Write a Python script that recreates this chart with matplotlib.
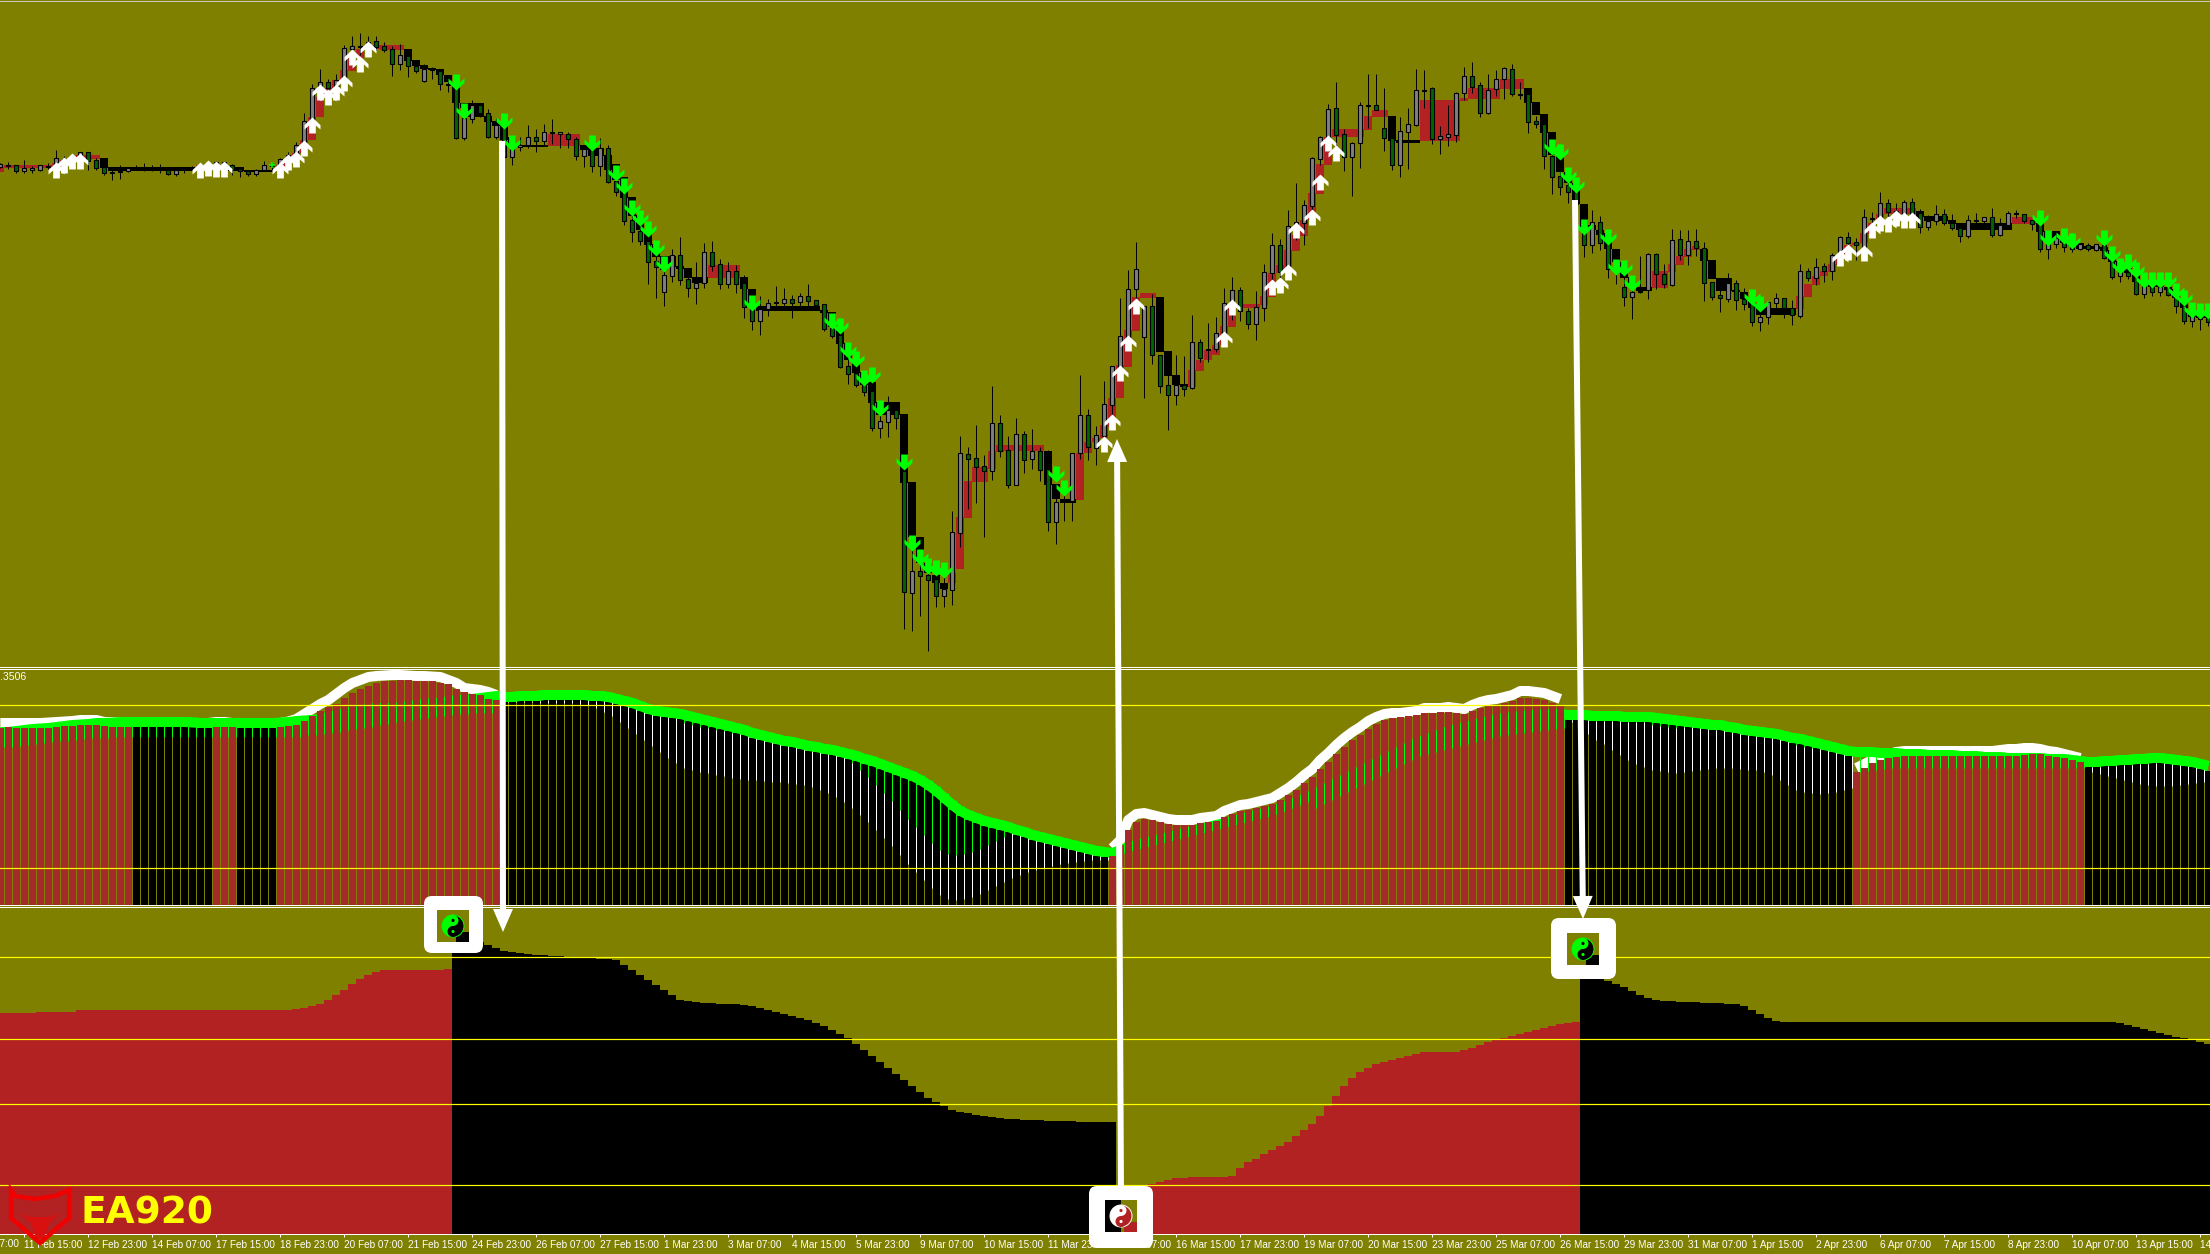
import numpy as np
import matplotlib
matplotlib.use('Agg')
import matplotlib.pyplot as plt
from matplotlib.path import Path
from matplotlib.patches import Circle, Wedge, Rectangle, Polygon, FancyBboxPatch, FancyArrow

# levels are read off the screenshot (no price scale is visible), larger = lower on the chart
body_top = [
    164,165,165,168,168,165,166,158,159,156, 152,152,160,167,172,171,168,168,168,168,
    168,170,170,168,168,165,165,162,162,165, 169,171,170,165,165,159,155,145,121,88,
    82,82,80,48,46,45.5,42,41,46,49, 55,56,66,69,69,71,84,85,118,105,
    105,113,125,124,147,145,137,137,132,132, 132,134,139,149,149,148,148,181,192,220,
    231,241,261,275,255,255,279,283,252,252, 264,271,271,283,307,309,303,302,299,299,
    296,296,300,304,328,335,366,373,384,391, 421,410,410,471,571,571,575,579,589,532,
    453,454,458,466,423,423,450,434,434,451, 451,469,502,500,453,415,415,435,404,366,
    336,289,269,306,306,355,385,385,385,342, 342,349,333,303,290,290,311,307,272,245,
    245,226,222,205,158,137,109,108,134,143, 105,105,105,128,138,131,124,90,90,88,
    136,134,93,76,76,85,90,79,68,69, 94,94,121,124,156,176,185,191,233,222,
    222,243,269,287,292,291,254,254,274,240, 239,241,241,248,282,295,283,283,299,303,
    317,302,298,298,308,271,271,267,266,255, 237,237,242,217,218,203,203,211,202,202,
    213,221,214,214,223,228,220,220,217,217, 225,213,213,214,220,223,244,238,238,246,
    244,245,244,245,257,272,272,276,283,283, 287,287,294,305,314,314,318]
body_bot = [
    167,166,171,171,170,170,167,167,160,159, 157,161,168,173,173,172,171,169,169,169,
    169,174,174,169,169,168,166,166,166,170, 171,174,174,170,166,165,159,156,146,122,
    88,88,88,81,49,46.5,46,47,50,64, 64,66,71,81,70,84,85,138,138,119,
    113,137,137,157,157,147,145,141,141,133, 134,139,156,156,166,166,182,192,221,232,
    241,262,267,292,276,280,288,288,283,266, 284,284,284,307,321,321,309,303,303,303,
    302,301,305,329,336,367,374,385,392,428, 428,422,418,592,593,576,580,596,596,590,
    533,459,467,471,471,451,485,485,460,459, 470,522,522,501,501,453,447,448,436,405,
    368,337,289,337,355,386,395,395,389,388, 358,350,349,334,304,311,324,324,308,273,
    272,269,226,223,206,159,138,135,157,157, 143,106,110,138,165,165,132,125,91,139,
    139,137,135,93,87,113,113,89,79,94, 95,122,124,156,177,187,192,204,245,245,
    243,269,271,297,297,292,290,274,284,285, 255,255,248,283,297,298,299,300,304,322,
    322,317,303,308,315,316,278,278,271,271, 255,243,245,250,218.5,217,212,214,214,214,
    227,227,221,223,228,236,236,221,221,235, 235,225,214,221,224,249,249,244,247,249,
    249,249,250,258,277,276,276,294,294,292, 292,295,306,321,321,319,322]
wick_high = [
    163,162,165,160,166,165,163,150,156,155, 152,152,158,167,170,165,167,165,163,165,
    164,169,169,167,166,164,162,161,161,164, 168,170,169,161,163,158,152,142,113,84,
    69,79,74,45,36,33,36,36,42,46, 44,53,63,64,67,69,80,77,110,100,
    103,109,118,115,138,137,125,129,124,119, 132,132,137,145,145,138,145,173,180,205,
    213,227,245,263,249,237,277,262,243,241, 259,262,265,275,300,296,299,286,288,295,
    293,284,300,304,323,322,347,360,373,377, 407,396,403,457,547,553,563,563,573,511,
    436,447,425,455,386,415,436,418,431,429, 447,450,487,487,453,375,409,426,381,366,
    298,270,242,306,294,355,355,355,356,315, 339,323,317,288,277,287,308,291,264,233,
    239,210,183,200,157,136,104,82,129,142, 102,74,74,88,138,117,108,69,70,87,
    126,105,92,67,62,82,74,70,67,64, 82,93,116,122,140,150,173,180,217,210,
    216,237,263,270,287,256,253,253,264,229, 230,230,229,242,282,285,273,280,288,295,
    303,302,293,298,300,264,268,258,263,253, 236,232,238,209,212,192,199,203,200,198,
    209,215,205,209,214,227,215,213,217,208, 218,211,210,214,220,220,237,235,233,244,
    243,243,244,238,253,265,267,270,280,280, 280,283,292,300,309,310,313]
wick_low = [
    168,169,173,173,173,171,169,170,167,165, 160,170,170,175,180,179,172,170,171,171,
    173,175,176,173,170,172,170,172,172,175, 177,176,176,171,170,170,163,160,150,130,
    100,100,97,88,65,55,50,50,52,76, 70,77,73,82,79,90,92,139,140,123,
    117,138,139,157,165,151,148,152,145,144, 148,148,160,167,172,176,183,196,225,242,
    245,284,298,306,282,285,297,304,288,271, 289,288,293,318,330,335,316,307,306,318,
    307,307,307,331,338,368,384,387,396,431, 438,437,429,629,631,616,651,607,607,605,
    547,509,503,537,480,457,488,485,473,469, 481,531,544,521,521,459,460,465,447,420,
    370,350,310,398,364,393,430,405,396,389, 362,362,352,340,320,321,329,340,321,293,
    292,278,240,245,220,165,142,150,171,196, 168,128,110,151,170,177,169,126,108,144,
    154,146,142,100,93,117,114,96,99,96, 99,133,128,169,194,195,203,220,257,253,
    250,278,284,306,319,293,299,289,288,286, 260,265,256,301,300,312,302,310,310,326,
    331,324,313,318,325,318,281,285,282,280, 265,258,260,252,230,230,227,225,225,226,
    233,230,225,225,230,242,238,223,227,237, 236,225,218,223,230,252,259,248,252,252,
    250,251,251,259,279,282,279,295,298,296, 296,296,313,324,327,330,326]
up_candles = [0,1,3,4,5,7,9,10,16,17,22,23,24,25,27,32,33,34,35,36,37,38,39,40,42,43,44,46,50,53,58,59,62,64,
              65,66,68,70,73,75,83,84,87,88,91,95,96,98,100,110,111,114,118,119,120,124,127,129,132,134,135,
              137,138,139,140,141,142,143,147,149,152,153,154,157,158,159,161,162,163,164,165,166,169,170,175,
              176,177,180,181,182,183,186,187,188,199,204,205,206,209,211,216,220,221,222,225,227,229,230,233,
              235,238,241,242,246,248,250,251,256,257,260,262,265,268,270,274]

ha_top = [
    167,165,165,165,165,165,165,163,160,158, 155,155,155,158,167,167,167,167,167,167,
    167,167,167,167,167,165,165,165,165,167, 167,170,170,170,170,165,160,153,140,117,
    97,88,80,70,53,49,45,45,45,45, 45,49,60,65,68,69,75,82,103,103,
    103,116,121,125,137,145,145,145,145,134, 134,134,134,145,148,148,155,164,177,197,
    215,230,244,256,256,266,268,277,277,265, 265,265,265,277,289,306,306,306,306,306,
    306,306,306,310,312,324,343,360,372,382, 402,402,402,414,482,537,563,575,583,573,
    517,481,467,467,451,445,445,445,445,445, 445,451,484,499,499,453,442,438,425,398,
    365,330,297,293,293,297,351,375,384,370, 360,350,345,326,307,304,304,304,296,273,
    265,250,235,220,193,164,137,129,129,129, 129,116,110,110,116,140,140,140,100,100,
    100,100,100,98,88,88,88,88,79,79, 79,88,102,114,132,155,172,183,204,225,
    230,233,249,262,277,287,287,271,271,264, 256,249,246,249,260,278,278,290,292,299,
    308,308,308,308,308,296,284,276,271,264, 255,245,243,233,223,214,208,208,208,208,
    211,216,216,216,220,223,223,223,223,223, 223,223,217,217,217,223,231,231,240,242,
    243,246,246,247,250,261,268,275,282,284, 285,287,289,300,313,315,315]
ha_bot = [
    172,168,168,168,168,168,168,168,166,162, 159,160,159,168,171,171,171,171,171,171,
    171,171,171,171,171,170,170,170,170,171, 171,172,172,172,172,171,168,162,153,140,
    117,97,88,81,71,58,48,49,50,50, 50,61,66,69,70,75,82,103,108,117,
    117,122,126,140,147,147,147,147,147,146, 146,146,146,150,156,156,170,180,198,216,
    230,245,257,270,267,269,278,283,283,278, 278,278,278,289,306,311,311,311,311,311,
    311,311,311,313,327,344,360,373,385,403, 415,415,415,483,537,563,573,583,589,583,
    569,518,482,482,469,452,451,451,451,451, 451,485,499,503,503,500,453,442,438,427,
    398,367,331,298,298,352,376,385,387,387, 371,360,355,345,327,308,308,308,305,297,
    273,270,251,236,220,194,165,137,137,137, 137,130,117,117,141,143,143,143,141,141,
    141,141,141,101,99,99,99,99,89,89, 89,103,115,133,155,172,183,204,227,230,
    235,249,262,278,287,291,291,288,288,272, 265,257,250,261,279,291,291,292,299,308,
    315,315,315,315,315,309,297,285,276,272, 265,255,245,243,234,223,214,214,214,214,
    217,221,221,221,224,230,230,230,230,230, 230,230,224,224,224,232,240,240,243,246,
    249,249,249,251,262,269,273,282,285,287, 287,290,298,308,317,318,318]
ha_red_spans = [(0,12),(25,28),(35,50),(69,72),(89,92),(119,130),(135,144),(149,173),(178,190),(207,212),(225,239),(252,254)]

up_arrow_bars = [7,8,9,10,25,26,27,28,35,36,37,38,39,40,41,42,43,44,45,46,138,139,140,141,142,153,154,159,160,161,162,
                 164,165,166,167,230,231,233,234,235,236,237,238,239]
up_arrow_y = [170,165,161,161,170,168,169,169,170,162,159,148,125,92,97,92,83,57,64,49,444,422,373,343,306,339,307,287,285,272,230,
              217,182,143,153,258,252,253,230,223,224,218,220,220]
down_arrow_bars = [57,58,63,64,74,77,78,79,80,81,82,83,94,104,105,106,107,108,109,110,113,114,115,116,117,118,132,133,
                   194,195,196,197,198,201,202,203,204,219,220,255,256,258,259,263,264,265,266,267,268,269,270,271,272,273,274,275,276]
down_arrow_y = [82,111,121,143,143,173,186,208,218,229,248,264,303,321,326,350,359,378,375,408,462,543,557,566,568,570,474,488,
                147,152,175,185,227,237,267,268,283,297,304,218,238,236,241,238,254,266,262,270,280,280,280,280,291,298,310,311,311]

white_line = [
    718,718,718,718,718,718,717.5,717,716.5,716, 715,715,715,717,717,717,717,718,718,718,
    718,718,718,718,718,718,718,717,717,718, 718,718,718,718,718,718,716.5,714,709,704,
    699,695,689,683,678,675,672,671,670.5,670, 670,670.5,671,671,671.5,672,675,678,683,684,
    685,687,690] + [np.nan]*76 + [
    843,835,815,809,808,810,812,814,815,815, 815,813,812,811,806,803,800,799,797,795,
    793,788,783,777,770,764,755,748,740,733, 727,722,716,712,709,708,708,707,706,703,
    703,703,702,703,704,700,697,695,694,692, 690,686,686,687,688,691,694] + [np.nan]*36 + [
    763,759,755,751,749,747,746,746,746,746, 746,746,746,746,746,746,746,746,745,744,
    744,743,743,744,746,747,749,751,753] + [np.nan]*16
lime_line = [
    727,727,726,725,724,723.5,723,722,721,720, 719.5,719,718,718,717.5,717,717,717,717,717,
    717,717,717,717,717.5,718,718,718,718,718, 718,718,718,718,718,717.5,717,716,715.5,715,
    714,712,710,708,706,705,704,703,703,703, 702,701,700,699,698,698,696,695,695,694,
    693,692,691, 692,692,691,691,691,690,690,690,690,690, 690,691,691,692,694,696,698,701,704,706,
    707,708,709,711,713,715,717,719,721,723, 725,728,730,732,734,736,737,739,741,742,
    744,745,747,749,751,754,756,759,762,765, 768,771,775,780,786,793,800,806,810,813,
    816,818,820,822,825,827,830,832,834,836, 838,840,842,844,846,847,
    848,845,842,840,838,836,834,832,830,828, 826,824,822,820,818,816,814,812,810,808,
    806,803,800,797,794,790,786,782,778,774, 770,766,762,758,754,750,746,742,738,735,
    732,729,726,724,722,720,718,716,714,713, 712,711,710,710,709,709,709,
    710,710,710,711,711,711,711,712,712,712, 712,713,714,715,716,717,718,719,720,720,
    722,723,725,726,727,728,729,731,733,734, 736,738,740,742,744,746,
    747,747,747,748,748,748,749,749,749,750, 750,750,750,751,751,751,752,752,752,753,
    753,753,753,753,754,754,754,755,756, 757,757,756,756,755,755,754,754,753,753,
    754,755,756,757,759,761]
trace_bot = [
    747,746.7,746,745,744,743,742,741.5,741,740, 739,738.5,738,738,737,737,737,737,737,737,
    737,737,737,737,737,737,737,737,737,737, 737,737,737,737,737,737,737,737,735,735,
    734,733,732,730,729,728,727,725,724,722, 721,720,719,718,717,716,715,714.5,714,713.5,
    713,713,713, 700,701,702,702,703,703,703,703,703,704, 705,708,712,716,722,728,734,740,746,752,
    758,763,768,770,772,773,775,776,778,779, 780,780,781,782,782,783,784,785,787,790,
    793,797,802,808,815,822,830,838,846,855, 864,872,880,888,895,899,900,899,897,894,
    890,886,882,878,875,872,870,868,866,864, 863,862,861,860,860,860,
    848,845,842,840,838,836,834,832,830,828, 826,824,822,820,818,816,814,812,810,808,
    806,803,800,797,794,808,804,800,796,792, 788,784,780,776,772,768,764,760,756,754,
    752,750,748,746,744,742,740,738,736,735, 734,733,732,731,730,729,728,
    722,728,734,740,744,750,755,760,764,767, 770,771,772,773,772,771,770,769,768,768,
    768,769,770,770,772,775,780,785,790,792, 793,794,793,792,790,788,
    772,771,770,769,768,768,768,768,768,768, 768,768,768,768,768,768,768,768,768,768,
    768,768,768,768,768,768,768,768,768, 772,774,776,778,780,782,784,785,786,786,
    786,785,784,783,782,782]
hist_red_top = [
    728,727,728,728,728,728,728,727,726,726, 725,725,725,726,727,727,727] + [np.nan]*10 + [727,727,727] + [np.nan]*5 + [
    727,726,725,721,716,711,707,704,698,693, 689,686,683,681,681,680,680,681,681,681,
    683,684,689,692,694,695,699,700] + [np.nan]*76 + [
    856,845,830,822,819,820,822,824,825,825, 825,823,822,821,817,814,811,810,808,806,
    804,800,795,790,783,777,769,762,754,747, 740,735,729,724,720,718,717,716,715,713,
    713,712,712,713,714,711,708,706,705,703, 701,698,698,699,700,703,706] + [np.nan]*36 + [
    772,768,763,760,758,757,756,756,756,756, 756,756,756,756,756,756,756,756,756,756,
    756,755,754,754,756,757,758,760,762] + [np.nan]*16

area_top = [1013]*5 + [1012]*5 + [1010]*27 + [
    1009,1008,1006,1004,1000,995,990,984,979,975, 972,970,970,970,970,970,970,970,970,969,
    935,937,939,942,945,948,951,952,953,954, 955,955,956,956,957,957,958,958,959,959,
    960,965,970,975,980,985,990,995,1000,1001, 1002,1003,1003,1004,1004,1004,1005,1006,1008,1010,
    1012,1014,1016,1018,1020,1023,1026,1030,1034,1038, 1044,1050,1056,1062,1068,1074,1080,1086,1092,1098,
    1102,1106,1110,1112,1113,1115,1116,1117,1118,1119, 1119,1120,1120,1120,1121,1121,1121,1121,1122,1122,
    1122,1122,1122,
    1188,1187,1186,1185,1184,1182,1180,1178,1178,1177, 1177,1177,1177,1177,1176,1168,1162,1159,1154,1150,
    1146,1142,1136,1130,1124,1116,1106,1096,1086,1078, 1072,1068,1064,1062,1060,1058,1056,1054,1052,1052,
    1052,1052,1052,1050,1048,1045,1042,1040,1038,1036, 1034,1032,1030,1028,1026,1024,1023,1022,
    975,977,979,981,984,987,991,995,998,1000, 1001,1001,1002,1002,1002,1003,1003,1003,1004,1004,
    1006,1010,1014,1018,1021] + [1022]*42 + [1023,1025,1027,1029,1031,1033,1035,1037,1038,1040,1042,1044]
area_red_spans = [(0,56),(140,197)]

hist_levels = [705.3, 868.3]
area_levels = [957, 1039, 1104, 1185]

tick_bars = list(range(-5, 276, 8))
tick_labels = ['10 Feb 07:00','11 Feb 15:00','12 Feb 23:00','14 Feb 07:00','17 Feb 15:00','18 Feb 23:00','20 Feb 07:00',
               '21 Feb 15:00','24 Feb 23:00','26 Feb 07:00','27 Feb 15:00','1 Mar 23:00','3 Mar 07:00','4 Mar 15:00',
               '5 Mar 23:00','9 Mar 07:00','10 Mar 15:00','11 Mar 23:00','13 Mar 07:00','16 Mar 15:00','17 Mar 23:00',
               '19 Mar 07:00','20 Mar 15:00','23 Mar 23:00','25 Mar 07:00','26 Mar 15:00','29 Mar 23:00','31 Mar 07:00',
               '1 Apr 15:00','2 Apr 23:00','6 Apr 07:00','7 Apr 15:00','8 Apr 23:00','10 Apr 07:00','13 Apr 15:00','14 Apr 23:00']

OLIVE = '#808000'
RED = '#B22222'
HIST_RED = '#A52A2A'
LIME = '#00FF00'
W, H = 2210, 1254
PX = 0.72  # one pixel in points at dpi 100

plt.rcParams['font.family'] = ['Liberation Sans', 'DejaVu Sans']
fig = plt.figure(figsize=(W / 100, H / 100), dpi=100, facecolor=OLIVE)


def panel(top, bottom, z=1):
    ax = fig.add_axes([0, 1 - bottom / H, 1, (bottom - top) / H], facecolor=OLIVE, zorder=z)
    ax.set_xlim(-0.04, 276.21)
    ax.set_ylim(bottom, top)
    ax.set_yticks([])
    ax.set_xticks([])
    for s in ax.spines.values():
        s.set_visible(False)
    return ax


def in_spans(n, spans):
    mask = np.zeros(n, dtype=bool)
    for a, b in spans:
        mask[a:b + 1] = True
    return mask


bars = np.arange(len(body_top))

# ---- price panel
ax_top = panel(0, 666)
ha_top = np.array(ha_top, float)
ha_bot = np.array(ha_bot, float)
ha_red = in_spans(len(bars), ha_red_spans)
ax_top.bar(bars, ha_bot - ha_top, bottom=ha_top, width=1.0, linewidth=0,
           color=[RED if r else 'black' for r in ha_red], zorder=1)

body_top = np.array(body_top, float)
body_bot = np.array(body_bot, float)
ax_top.vlines(bars, wick_high, wick_low, color='black', linewidth=PX, zorder=2)
is_up = np.isin(bars, up_candles)
ax_top.bar(bars, np.maximum(body_bot - body_top, 0.6), bottom=body_top, width=0.5, linewidth=PX * 1.1,
           edgecolor='black', color=['#808080' if u else '#006400' for u in is_up], zorder=3)

arrow_up = Path([(0, 1), (1, 0.05), (1, -0.5), (0.42, 0.0), (0.42, -1), (-0.42, -1),
                 (-0.42, 0.0), (-1, -0.5), (-1, 0.05), (0, 1)], closed=True)
arrow_down = Path(arrow_up.vertices * [1, -1], closed=True)
ax_top.plot(up_arrow_bars, up_arrow_y, ls='none', marker=arrow_up, ms=11.5, mfc='white', mec='none', zorder=4)
ax_top.plot(down_arrow_bars, down_arrow_y, ls='none', marker=arrow_down, ms=11.5, mfc=LIME, mec='none', zorder=4)
ax_top.plot([34], [165], ls='none', marker='+', ms=5, mew=PX * 1.5, color=LIME, zorder=4)

# ---- oscillator panel
ax_mid = panel(668.5, 905)
hist_red_top = np.array(hist_red_top, float)
lime_line = np.array(lime_line, float)
white_line = np.array(white_line, float)
trace_bot = np.array(trace_bot, float)
hist_red = ~np.isnan(hist_red_top)
hist_top = np.where(hist_red, hist_red_top, lime_line + 10)

line_px = 10 * PX
ax_mid.plot(bars, white_line + 5, color='white', lw=line_px, solid_capstyle='butt', zorder=1)
ax_mid.plot(bars, lime_line + 5, color=LIME, lw=line_px, solid_capstyle='butt', zorder=1.5)
ax_mid.bar(bars, 905 - hist_top, bottom=hist_top, width=0.875, linewidth=0,
           color=[HIST_RED if r else 'black' for r in hist_red], zorder=2)

white_seg_top = np.maximum(lime_line + 10, trace_bot - 45)
has_white = (~hist_red) & (bars >= 63)
for i in bars:
    if has_white[i]:
        ax_mid.vlines(i + 0.5, lime_line[i], white_seg_top[i], color=LIME, lw=PX, zorder=3)
        ax_mid.vlines(i + 0.5, white_seg_top[i], trace_bot[i], color='white', lw=PX, zorder=3)
    else:
        ax_mid.vlines(i + 0.5, lime_line[i], trace_bot[i], color=LIME, lw=PX, zorder=3)
ax_mid.plot(bars, np.where(hist_red, np.nan, lime_line + 5), color=LIME, lw=line_px,
            solid_capstyle='butt', zorder=4)
for lv in hist_levels:
    ax_mid.axhline(lv, color='#FFFF00', lw=PX * 1.2, zorder=5)
ax_mid.text(-0.02, 677, '.3506', color='white', fontsize=7.6, va='center', ha='left', zorder=6)

# ---- area panel
ax_low = panel(907, 1234)
area_top = np.array(area_top, float)
area_red = in_spans(len(bars), area_red_spans)
ax_low.bar(bars, 1234 - area_top, bottom=area_top, width=1.0, linewidth=0,
           color=[RED if r else 'black' for r in area_red], zorder=1)
for lv in area_levels:
    ax_low.axhline(lv, color='#FFFF00', lw=PX * 1.2, zorder=2)
ax_low.spines['bottom'].set_visible(True)
ax_low.spines['bottom'].set_color('white')
ax_low.spines['bottom'].set_linewidth(PX)
ax_low.set_xticks(tick_bars[1:])
ax_low.set_xticklabels(tick_labels[1:], color='white', fontsize=7.2, ha='left')
ax_low.tick_params(axis='x', length=3 * PX, width=PX, color='white', pad=2.5)
ax_low.text(tick_bars[0], 1244, tick_labels[0], color='white', fontsize=7.2, va='center', ha='left', clip_on=False)

# ---- overlay in screen pixels: callouts, separators, logo
ov = fig.add_axes([0, 0, 1, 1], zorder=10)
ov.set_xlim(0, W)
ov.set_ylim(H, 0)
ov.axis('off')

for yy, col in [(0.5, '#C8C8C8'), (666.7, 'white'), (668.7, 'white'), (904.7, 'white'), (906.7, 'white')]:
    ov.plot([0, W], [yy, yy], color=col, lw=PX)


def long_arrow(x0, y0, x1, y1):
    ov.add_patch(FancyArrow(x0, y0, x1 - x0, y1 - y0, width=6, head_width=20, head_length=23,
                            length_includes_head=True, color='white', lw=0, zorder=2))


long_arrow(502, 141, 503, 932)
long_arrow(1121, 1195, 1117, 439)
long_arrow(1575, 200, 1583, 919)


def yinyang(cx, cy, r, light, dark):
    ov.add_patch(Circle((cx, cy), r, fc=dark, ec=light, lw=PX, zorder=5))
    ov.add_patch(Wedge((cx, cy), r, 90, 270, fc=light, lw=0, zorder=6))
    ov.add_patch(Circle((cx, cy - r / 2), r / 2, fc=light, lw=0, zorder=7))
    ov.add_patch(Circle((cx, cy + r / 2), r / 2, fc=dark, lw=0, zorder=7))
    ov.add_patch(Circle((cx, cy - r / 2), r / 7, fc=dark, lw=0, zorder=8))
    ov.add_patch(Circle((cx, cy + r / 2), r / 7, fc=light, lw=0, zorder=8))


def icon_box(x0, y0, x1, y1, ix, iy, colors, light, dark):
    ov.add_patch(FancyBboxPatch((x0, y0), x1 - x0, y1 - y0, boxstyle='round,pad=0,rounding_size=8',
                                fc='white', ec='none', zorder=3))
    s = 32
    ov.add_patch(Rectangle((ix - s / 2, iy - s / 2), s, s, fc=colors[0], lw=0, zorder=4))
    ov.add_patch(Rectangle((ix, iy - s / 2), s / 2, s, fc=colors[1], lw=0, zorder=4))
    ov.add_patch(Rectangle((ix + 3, iy + 6), s / 2 - 3, s / 2 - 6, fc=colors[2], lw=0, zorder=4))
    yinyang(ix, iy, 11, light, dark)


icon_box(424, 896, 483, 953, 453, 926, [OLIVE, OLIVE, 'black'], LIME, 'black')
icon_box(1551, 918, 1616, 979, 1583, 949, [OLIVE, OLIVE, 'black'], LIME, 'black')
icon_box(1089, 1186, 1153, 1248, 1121, 1216, ['black', OLIVE, RED], 'white', RED)

# logo
shield = [(11, 1190), (15, 1196), (35, 1199), (55, 1196), (69, 1190), (69, 1218), (40, 1243), (11, 1218)]
ov.add_patch(Polygon(shield, closed=True, fc='none', ec='#F00000', lw=3.2, zorder=5))
bull = [(20, 1213), (30, 1217), (50, 1217), (60, 1213), (49, 1223), (45, 1236), (40, 1240), (35, 1236), (31, 1223)]
ov.add_patch(Polygon(bull, closed=True, fc='#D81010', ec='none', zorder=5))
ov.text(80, 1213, 'EA920', color='#FFFF00', fontsize=27, fontweight='bold', family='DejaVu Sans',
        va='center', ha='left', zorder=6)

fig.savefig('out.png', dpi=100, facecolor=OLIVE)
